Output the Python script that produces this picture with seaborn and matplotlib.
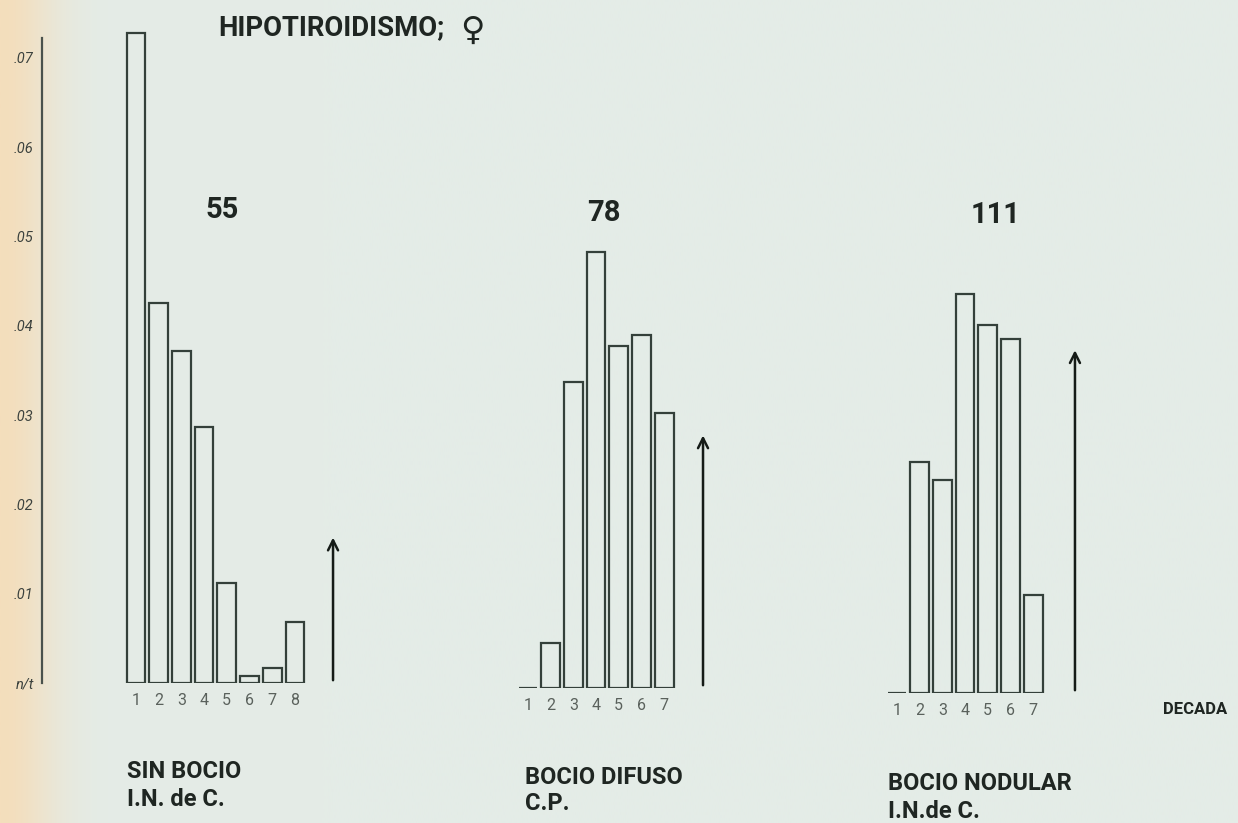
import numpy as np
import pandas as pd
import seaborn as sns
import matplotlib.pyplot as plt

# valores (n/t por decada)
decadas_sin = ["1", "2", "3", "4", "5", "6", "7", "8"]
sin_bocio = [0.0728, 0.0426, 0.0372, 0.0287, 0.0112, 0.0008, 0.0017, 0.0068]

decadas_dif = ["1", "2", "3", "4", "5", "6", "7"]
bocio_difuso = [0.0, 0.0050, 0.0343, 0.0488, 0.0383, 0.0395, 0.0308]

decadas_nod = ["1", "2", "3", "4", "5", "6", "7"]
bocio_nodular = [0.0, 0.0259, 0.0239, 0.0447, 0.0412, 0.0396, 0.0110]

# flechas (posicion en decadas desde la primera barra, altura)
flecha_pos = [8.68, 7.71, 7.84]
flecha_alt = [0.0166, 0.0286, 0.0387]

casos = ["55", "78", "111"]
grupos = [("SIN BOCIO", "I.N. de C."), ("BOCIO DIFUSO", "C.P."),
          ("BOCIO NODULAR", "I.N.de C.")]

y_ticks = [0, 0.01, 0.02, 0.03, 0.04, 0.05, 0.06, 0.07]
y_labels = ["n/t", ".01", ".02", ".03", ".04", ".05", ".06", ".07"]

W, H = 1238, 823
PX_CAT = 22.7      # px por decada
PX_VAL = 8930      # px por unidad de n/t
YMAX = 0.0765
LINE = "#34403a"
TEXT = "#1f2622"

sns.set_style("white")
plt.rcParams["font.family"] = ["Roboto", "DejaVu Sans"]

fig = plt.figure(figsize=(W / 100, H / 100), dpi=100)

# fondo de papel escaneado (borde izquierdo amarillento)
bg = fig.add_axes([0, 0, 1, 1], zorder=-5)
xx = np.linspace(0, W, 600)
edge = np.exp(-(xx / 55.0) ** 2)
base = np.array([228, 236, 231]) / 255
paper = np.array([244, 222, 188]) / 255
grad = base[None, :] * (1 - edge[:, None]) + paper[None, :] * edge[:, None]
bg.imshow(grad[None, :, :], aspect="auto", extent=[0, 1, 0, 1],
          interpolation="bilinear")
bg.set_axis_off()


def panel(first_center, baseline, left_px):
    right_px = first_center + 9.5 * PX_CAT
    ax = fig.add_axes([left_px / W, (H - baseline) / H,
                       (right_px - left_px) / W, YMAX * PX_VAL / H])
    ax.patch.set_alpha(0)
    return ax, -(first_center - left_px) / PX_CAT


def draw(ax, x_left, decadas, valores, k):
    df = pd.DataFrame({"decada": decadas, "valor": valores})
    sns.barplot(data=df, x="decada", y="valor", ax=ax, width=0.82,
                facecolor="none", edgecolor=LINE, linewidth=1.6,
                errorbar=None)
    ax.annotate("", xy=(flecha_pos[k], flecha_alt[k]), xytext=(flecha_pos[k], 0),
                arrowprops=dict(arrowstyle="->", lw=1.8, color="#151b17",
                                mutation_scale=18))
    ax.set_xlim(x_left, 9.5)
    ax.set_ylim(0, YMAX)
    ax.set_xlabel("")
    ax.set_ylabel("")
    ax.tick_params(axis="x", length=0, pad=7, labelsize=11.5, labelcolor="#5a615c")
    for s in ["top", "right", "bottom"]:
        ax.spines[s].set_visible(False)


ax1, xl1 = panel(136, 683, 42)
draw(ax1, xl1, decadas_sin, sin_bocio, 0)
ax1.spines["left"].set_color("#4a524c")
ax1.spines["left"].set_linewidth(1.6)
ax1.spines["left"].set_linestyle((0, (4, 1)))
ax1.spines["left"].set_bounds(0, 0.0722)
ax1.set_yticks(y_ticks)
ax1.set_yticklabels(y_labels, style="italic", fontsize=10.5, color="#3c423e")
ax1.tick_params(axis="y", direction="inout", length=6, width=1, color="#4a524c", pad=3)

ax2, xl2 = panel(528, 688, 528 - PX_CAT)
draw(ax2, xl2, decadas_dif, bocio_difuso, 1)
ax2.spines["left"].set_visible(False)
ax2.set_yticks([])

ax3, xl3 = panel(897, 693, 897 - PX_CAT)
draw(ax3, xl3, decadas_nod, bocio_nodular, 2)
ax3.spines["left"].set_visible(False)
ax3.set_yticks([])


def ftext(x, y, s, **kw):
    fig.text(x / W, 1 - y / H, s, color=TEXT, **kw)


ftext(218, 28, "HIPOTIROIDISMO;", fontsize=19.8, fontweight="bold", va="center")
ftext(472, 30, "\u2640", fontsize=24, fontweight="bold", ha="center", va="center",
      family=["DejaVu Sans"])

for s, (x, y) in zip(casos, [(222, 210), (604, 213), (996, 215)]):
    ftext(x, y, s, fontsize=21, fontweight="bold", ha="center", va="center")

for (l1, l2), (x, y1, y2) in zip(grupos, [(127, 771, 799), (525, 777, 804),
                                          (888, 784, 811)]):
    ftext(x, y1, l1, fontsize=17, fontweight="bold", va="center")
    ftext(x, y2, l2, fontsize=17, fontweight="bold", va="center")

ftext(1163, 710, "DECADA", fontsize=12, fontweight="bold", va="center")

fig.savefig("out.png", dpi=100)
